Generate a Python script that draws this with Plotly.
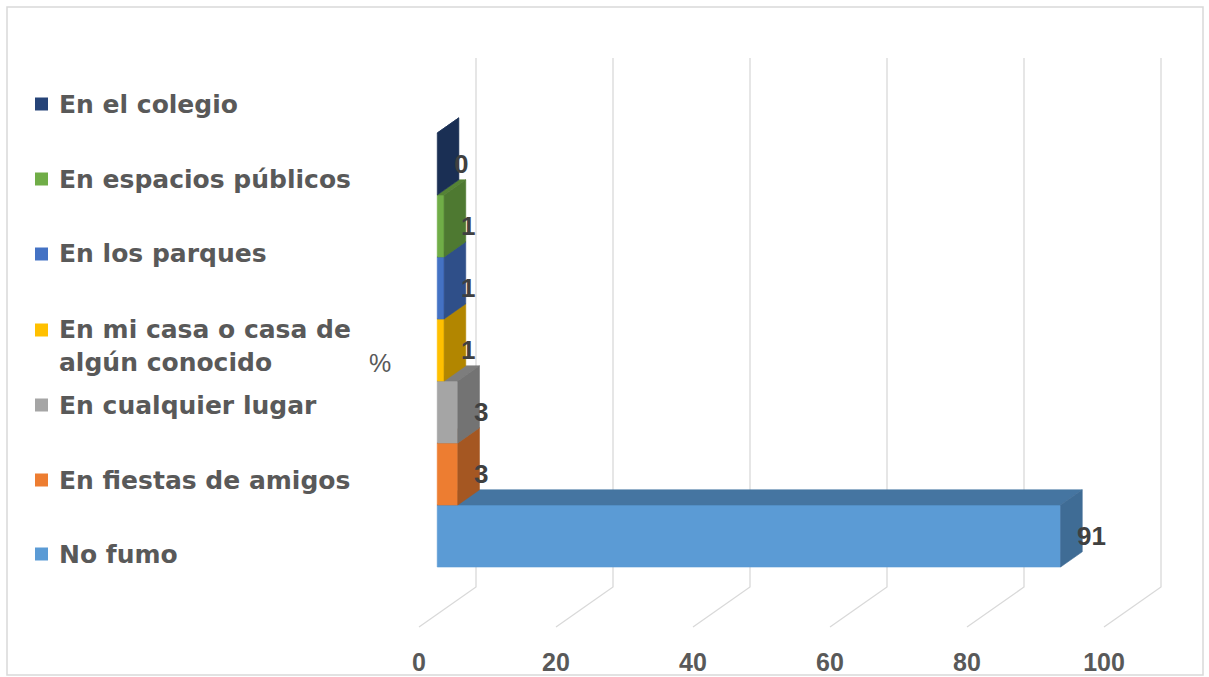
import plotly.graph_objects as go

# ---------------- data ----------------
categories = ["No fumo", "En fiestas de amigos", "En cualquier lugar",
              "En mi casa o casa de algún conocido", "En los parques",
              "En espacios públicos", "En el colegio"]
values = [91, 3, 3, 1, 1, 1, 0]
front_colors = ["#5B9BD5", "#ED7D31", "#A5A5A5", "#FFC000",
                "#4472C4", "#70AD47", "#264478"]
x_ticks = [0, 20, 40, 60, 80, 100]
axis_label = "%"

# ---------------- geometry (oblique 3D projection) ----------------
W, H = 1209, 677
MB = 32                       # bottom margin (room for value tick labels)
PX_PER_UNIT = 6.85            # px per value unit
X0_PX = 419                   # px of value 0 on the floor front edge
PX_PER_BAND = 62              # px per category band
Y0_PX = 579.8                 # px of band height 0 at depth 0
DX = 57 / PX_PER_UNIT         # depth offset (value units) front->back wall
DY = 40 / PX_PER_BAND         # depth offset (band units) front->back wall
D0, D1 = 0.32, 0.70           # bar depth extent
H_FLOOR = (Y0_PX - 627) / PX_PER_BAND
H_TOP = 7.77

x_range = [-X0_PX / PX_PER_UNIT, (W - X0_PX) / PX_PER_UNIT]
y_range = [(Y0_PX - (H - MB)) / PX_PER_BAND, Y0_PX / PX_PER_BAND]


def proj(v, h, d):
    return v + DX * d, h + DY * d


def shade(hexcol, f):
    hexcol = hexcol.lstrip("#")
    r, g, b = (int(hexcol[i:i + 2], 16) for i in (0, 2, 4))
    return "#%02X%02X%02X" % (int(r * f), int(g * f), int(b * f))


def px_x(p):
    return p / W


def px_y(p):
    return (H - MB - p) / (H - MB)


fig = go.Figure()

GRID = "#D9D9D9"
# back-wall and floor gridlines
for v in x_ticks:
    xs, ys = [], []
    for (hh, dd) in [(H_FLOOR, 0), (H_FLOOR, 1), (H_TOP, 1)]:
        px_, py_ = proj(v, hh, dd)
        xs.append(px_)
        ys.append(py_)
    fig.add_trace(go.Scatter(x=xs, y=ys, mode="lines",
                             line=dict(color=GRID, width=1.3),
                             hoverinfo="skip", showlegend=False))


def face(points, color):
    xs = [p[0] for p in points] + [points[0][0]]
    ys = [p[1] for p in points] + [points[0][1]]
    fig.add_trace(go.Scatter(x=xs, y=ys, mode="lines", fill="toself",
                             fillcolor=color,
                             line=dict(color=color, width=0.6),
                             hoverinfo="skip", showlegend=False))


# bars (bottom band first so upper bars cover lower top faces)
for i, (cat, v, col) in enumerate(zip(categories, values, front_colors)):
    h0, h1 = i, i + 1
    front = [proj(0, h0, D0), proj(v, h0, D0), proj(v, h1, D0), proj(0, h1, D0)]
    top = [proj(0, h1, D0), proj(v, h1, D0), proj(v, h1, D1), proj(0, h1, D1)]
    side = [proj(v, h0, D0), proj(v, h1, D0), proj(v, h1, D1), proj(v, h0, D1)]
    if v > 0:
        face(front, col)
    face(top, shade(col, 0.76))
    face(side, shade(col, 0.70))

annotations = []
# data labels
for i, v in enumerate(values):
    lx, _ = proj(v, 0, D1)
    _, ly = proj(0, i + 0.5, D0)
    annotations.append(dict(x=lx, y=ly, xref="x", yref="y", text="<b>%g</b>" % v,
                            showarrow=False, xanchor="left", yanchor="middle",
                            xshift=-7,
                            font=dict(family="Liberation Sans", size=26, color="#404040")))

# category axis label
cx, cy = proj(0, len(categories) / 2, 0)
annotations.append(dict(x=cx, y=cy, xref="x", yref="y", text=axis_label,
                        showarrow=False, xanchor="right", yanchor="middle", xshift=-26,
                        font=dict(family="Liberation Sans", size=25, color="#595959")))

# custom legend (top = last series)
legend_y = [554, 480, 405, 330, 254, 179, 104]
shapes = []
for i, cat in enumerate(categories):
    label = cat.replace(" algún", "<br>algún")
    yc = legend_y[i]
    shapes.append(dict(type="rect", xref="paper", yref="paper",
                       x0=px_x(35), x1=px_x(48), y0=px_y(yc + 6.5), y1=px_y(yc - 6.5),
                       fillcolor=front_colors[i], line=dict(width=0)))
    nlines = label.count("<br>") + 1
    ycenter = yc + (nlines - 1) * 16
    annotations.append(dict(x=px_x(57), y=px_y(ycenter), xref="paper", yref="paper",
                            text="<b>%s</b>" % label, showarrow=False,
                            xanchor="left", yanchor="middle", align="left",
                            font=dict(family="DejaVu Sans", size=25, color="#595959")))

# chart border
shapes.append(dict(type="rect", xref="paper", yref="paper",
                   x0=px_x(7), x1=px_x(1203), y0=px_y(675), y1=px_y(7),
                   line=dict(color="#D9D9D9", width=1.5), fillcolor="rgba(0,0,0,0)",
                   layer="below"))

fig.update_layout(
    template="none",
    width=W, height=H,
    margin=dict(l=0, r=0, t=0, b=MB),
    paper_bgcolor="white", plot_bgcolor="white",
    showlegend=False,
    xaxis=dict(range=x_range, tickvals=x_ticks, ticktext=["<b>%d</b>" % t for t in x_ticks],
               showgrid=False, zeroline=False, showline=False, ticks="",
               automargin=False, fixedrange=True,
               tickfont=dict(family="Liberation Sans", size=25, color="#595959")),
    yaxis=dict(range=y_range, showgrid=False, zeroline=False, showline=False,
               showticklabels=False, ticks="", automargin=False, fixedrange=True),
    annotations=annotations,
    shapes=shapes,
)

fig.write_html("out.html")
